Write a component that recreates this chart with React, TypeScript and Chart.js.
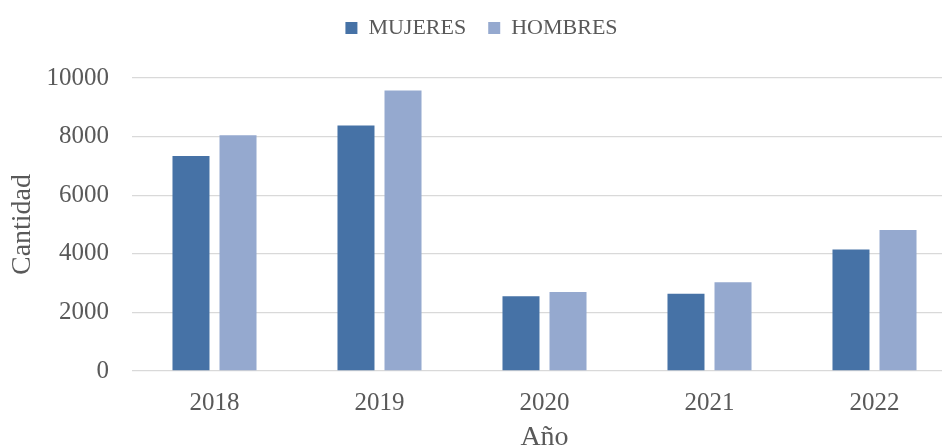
import React, { useEffect, useRef } from "react";
import { Chart, registerables } from "chart.js";

Chart.register(...registerables);

const categories = ["2018", "2019", "2020", "2021", "2022"];
const mujeres = [7340, 8380, 2550, 2640, 4150];
const hombres = [8050, 9570, 2700, 3030, 4810];
const seriesNames = ["MUJERES", "HOMBRES"];
const yTitle = "Cantidad";
const xTitle = "Año";

const FONT = "'Liberation Serif', 'Times New Roman', serif";
const TEXT = "#595959";

export default function App() {
  const ref = useRef<HTMLCanvasElement | null>(null);

  useEffect(() => {
    if (!ref.current) return;
    const chart = new Chart(ref.current, {
      type: "bar",
      data: {
        labels: categories,
        datasets: [
          {
            label: seriesNames[0],
            data: mujeres,
            backgroundColor: "#4672A6",
            categoryPercentage: 0.57,
            barPercentage: 0.787,
          },
          {
            label: seriesNames[1],
            data: hombres,
            backgroundColor: "#95A9CF",
            categoryPercentage: 0.57,
            barPercentage: 0.787,
          },
        ],
      },
      options: {
        responsive: false,
        maintainAspectRatio: false,
        animation: false,
        layout: { padding: { left: 6, right: 6, top: -5, bottom: 0 } },
        plugins: {
          tooltip: { enabled: false },
          legend: {
            position: "top",
            weight: 3000,
            labels: {
              font: { family: FONT, size: 22 },
              color: TEXT,
              boxWidth: 12,
              boxHeight: 12,
              padding: 22,
            },
          },
          title: {
            display: true,
            text: "",
            font: { size: 10, lineHeight: 1 },
            padding: { top: 10, bottom: 9 },
          },
        },
        scales: {
          x: {
            grid: { display: false, drawTicks: false },
            border: { display: false },
            ticks: {
              font: { family: FONT, size: 25 },
              color: TEXT,
              padding: 17,
            },
            title: {
              display: true,
              text: xTitle,
              font: { family: FONT, size: 28 },
              color: TEXT,
              padding: { top: 0, bottom: 6 },
            },
            afterFit(scale: any) {
              scale.height = 89;
            },
          },
          y: {
            min: 0,
            max: 10000,
            grid: { color: "#D9D9D9", lineWidth: 1.3, drawTicks: false },
            border: { display: false },
            ticks: {
              stepSize: 2000,
              font: { family: FONT, size: 25 },
              color: TEXT,
              padding: 23,
              callback: (v: any) => String(v),
            },
            title: {
              display: true,
              text: yTitle,
              font: { family: FONT, size: 28 },
              color: TEXT,
              padding: { top: 0, bottom: 0 },
            },
            afterFit(scale: any) {
              scale.width = 126;
            },
          },
        },
      },
    });
    return () => chart.destroy();
  }, []);

  return (
    <div
      style={{
        position: "fixed",
        left: 0,
        top: 0,
        width: 942,
        height: 448,
        overflow: "hidden",
        background: "#fff",
      }}
    >
      <canvas ref={ref} width={963} height={460} style={{ display: "block" }} />
    </div>
  );
}
